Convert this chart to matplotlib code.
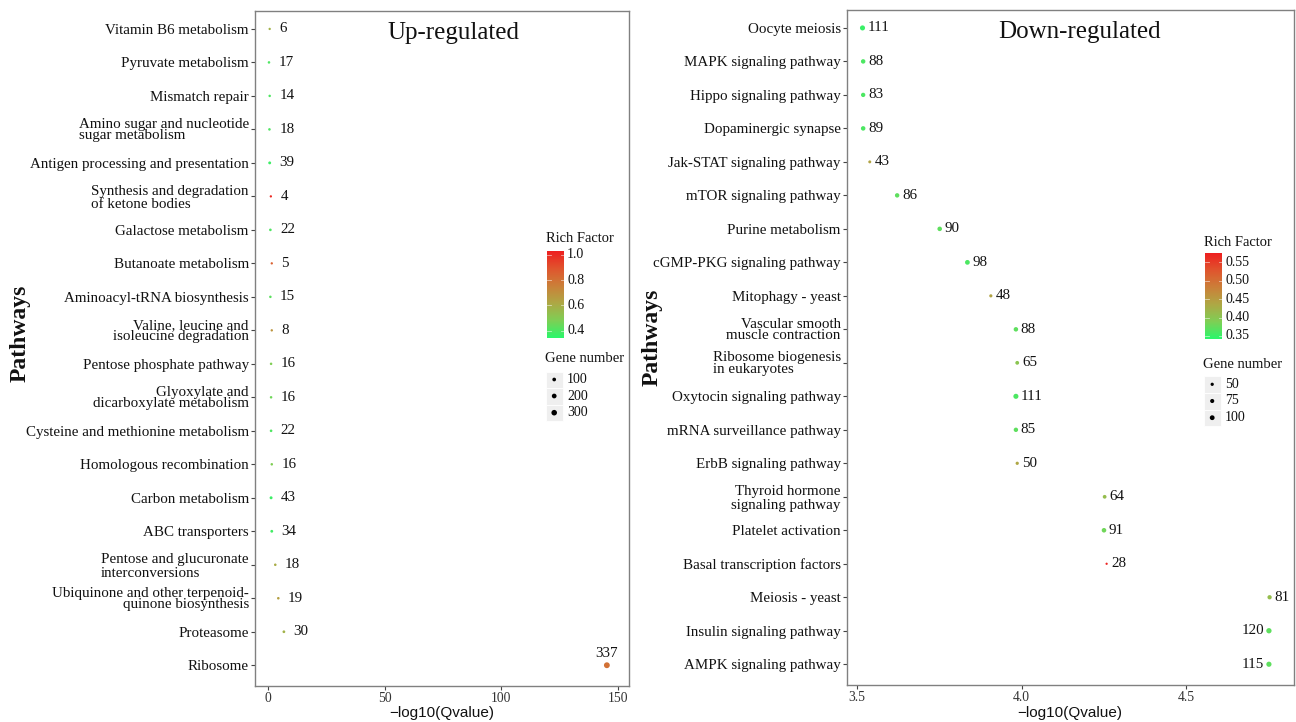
import matplotlib
matplotlib.use('Agg')
import matplotlib.pyplot as plt
import numpy as np
from matplotlib.colors import LinearSegmentedColormap, Normalize
from matplotlib.patches import Rectangle

# ---- data ----
up_pathways = [
    'Vitamin B6 metabolism', 'Pyruvate metabolism', 'Mismatch repair',
    'Amino sugar and nucleotide\nsugar metabolism', 'Antigen processing and presentation',
    'Synthesis and degradation\nof ketone bodies', 'Galactose metabolism',
    'Butanoate metabolism', 'Aminoacyl-tRNA biosynthesis',
    'Valine, leucine and\nisoleucine degradation', 'Pentose phosphate pathway',
    'Glyoxylate and\ndicarboxylate metabolism', 'Cysteine and methionine metabolism',
    'Homologous recombination', 'Carbon metabolism', 'ABC transporters',
    'Pentose and glucuronate\ninterconversions',
    'Ubiquinone and other terpenoid-\nquinone biosynthesis', 'Proteasome', 'Ribosome',
]
up_qvalue = [0.7, 0.4, 0.7, 0.6, 0.7, 1.2, 1.0, 1.6, 1.0, 1.6,
             1.3, 1.3, 1.3, 1.6, 1.3, 1.6, 3.1, 4.4, 6.8, 145.4]
up_rich = [0.58, 0.40, 0.40, 0.40, 0.37, 1.00, 0.40, 0.85, 0.42, 0.68,
           0.48, 0.45, 0.40, 0.48, 0.37, 0.38, 0.60, 0.64, 0.58, 0.80]
up_genes = [6, 17, 14, 18, 39, 4, 22, 5, 15, 8,
            16, 16, 22, 16, 43, 34, 18, 19, 30, 337]

down_pathways = [
    'Oocyte meiosis', 'MAPK signaling pathway', 'Hippo signaling pathway',
    'Dopaminergic synapse', 'Jak-STAT signaling pathway', 'mTOR signaling pathway',
    'Purine metabolism', 'cGMP-PKG signaling pathway', 'Mitophagy - yeast',
    'Vascular smooth\nmuscle contraction', 'Ribosome biogenesis\nin eukaryotes',
    'Oxytocin signaling pathway', 'mRNA surveillance pathway', 'ErbB signaling pathway',
    'Thyroid hormone\nsignaling pathway', 'Platelet activation',
    'Basal transcription factors', 'Meiosis - yeast', 'Insulin signaling pathway',
    'AMPK signaling pathway',
]
down_qvalue = [3.518, 3.52, 3.52, 3.52, 3.54, 3.623, 3.752, 3.836, 3.907, 3.983,
               3.987, 3.983, 3.983, 3.987, 4.252, 4.25, 4.258, 4.752, 4.75, 4.75]
down_rich = [0.35, 0.36, 0.36, 0.36, 0.44, 0.37, 0.37, 0.36, 0.44, 0.37,
             0.40, 0.36, 0.37, 0.435, 0.41, 0.38, 0.57, 0.41, 0.37, 0.37]
down_genes = [111, 88, 83, 89, 43, 86, 90, 98, 48, 88,
              65, 111, 85, 50, 64, 91, 28, 81, 120, 115]

up_rich_ticks = [0.4, 0.6, 0.8, 1.0]
down_rich_ticks = [0.35, 0.40, 0.45, 0.50, 0.55]
up_size_keys = [100, 200, 300]
down_size_keys = [50, 75, 100]

# labels whose second line starts flush with the first one
left_aligned = {'Amino sugar and nucleotide\nsugar metabolism',
                'Synthesis and degradation\nof ketone bodies',
                'Pentose and glucuronate\ninterconversions',
                'Ribosome biogenesis\nin eukaryotes'}
# two-line labels set with looser leading
loose = {'Synthesis and degradation\nof ketone bodies',
         'Pentose and glucuronate\ninterconversions',
         'Thyroid hormone\nsignaling pathway'}
# where the count label sits relative to its dot (default: right)
label_side = {'Ribosome': 'above',
              'Insulin signaling pathway': 'left',
              'AMPK signaling pathway': 'left'}

SERIF = 'Liberation Serif'
SANS = 'Liberation Sans'
W, H = 1296, 722

cmap = LinearSegmentedColormap.from_list(
    'rich', ['#2BF76B', '#7FCF55', '#AEA845', '#CB8039', '#E0552E', '#EE2020'])


def up_size(n):
    return 2.6 + 0.045 * np.asarray(n, dtype=float)


def down_size(n):
    return np.maximum(1.2, 0.13 * np.asarray(n, dtype=float) - 1.0)


def px_axes(fig, x0, y0, x1, y1):
    return fig.add_axes([x0 / W, 1 - y1 / H, (x1 - x0) / W, (y1 - y0) / H])


def draw_panel(fig, box, names, qv, rich, genes, norm, size_fn, xlim, xticks,
               xticklabels, title, title_x, dx):
    ax = px_axes(fig, *box)
    y = np.arange(len(names))
    ax.scatter(qv, y, s=size_fn(genes), c=rich, cmap=cmap, norm=norm,
               edgecolors='none', zorder=3)
    for xi, yi, n, name in zip(qv, y, genes, names):
        side = label_side.get(name, 'right')
        if side == 'above':
            off, ha, va = (0, 4), 'center', 'bottom'
        elif side == 'left':
            off, ha, va = (-dx, 0), 'right', 'center'
        else:
            off, ha, va = (dx, 0), 'left', 'center'
        ax.annotate(str(n), (xi, yi), xytext=off, textcoords='offset points',
                    ha=ha, va=va, fontsize=10.8, fontfamily=SERIF, color='#111111')
    ax.set_xlim(*xlim)
    ax.set_ylim(len(names) - 1 + 0.62, -0.55)
    ax.set_xticks(xticks)
    ax.set_xticklabels(xticklabels, fontfamily=SERIF, fontsize=9.8, color='#333333')
    ax.set_yticks(y)
    ax.set_yticklabels(names, fontfamily=SERIF, fontsize=10.8, color='#111111',
                       linespacing=0.85)
    for lab in ax.get_yticklabels():
        txt = lab.get_text()
        lab.set_multialignment('left' if txt in left_aligned else 'right')
        if txt in loose:
            lab.set_linespacing(1.05)
    ax.tick_params(axis='both', length=3, width=0.8, color='#444444', direction='out')
    ax.tick_params(axis='y', pad=1.5)
    ax.tick_params(axis='x', pad=1.5)
    for sp in ax.spines.values():
        sp.set_color('#808080')
        sp.set_linewidth(1.0)
    ax.text(title_x, 0.967, title, transform=ax.transAxes, ha='center', va='center',
            fontsize=18, fontfamily=SERIF, color='#111111')
    return ax


def draw_legend(lax, x0, title_y, bar_top, bar_bot, norm, ticks, tick_fmt,
                size_title_y, key_ys, keys, size_fn):
    lax.text(x0 - 1, title_y, 'Rich Factor', fontsize=10.5, fontfamily=SERIF,
             ha='left', va='center', color='#111111')
    grad = np.linspace(norm.vmax, norm.vmin, 200).reshape(-1, 1)
    lax.imshow(grad, cmap=cmap, norm=norm, aspect='auto',
               extent=[x0, x0 + 17, bar_bot, bar_top], zorder=2)
    for t in ticks:
        ty = bar_bot - (t - norm.vmin) / (norm.vmax - norm.vmin) * (bar_bot - bar_top)
        lax.plot([x0, x0 + 3.5], [ty, ty], color='white', lw=0.6, alpha=0.6, zorder=3)
        lax.plot([x0 + 13.5, x0 + 17], [ty, ty], color='white', lw=0.6, alpha=0.6, zorder=3)
        lax.text(x0 + 20, ty, tick_fmt.format(t), fontsize=10, fontfamily=SERIF,
                 ha='left', va='center', color='#111111')
    lax.text(x0 - 2, size_title_y, 'Gene number', fontsize=10.5, fontfamily=SERIF,
             ha='left', va='center', color='#111111')
    for ky, k in zip(key_ys, keys):
        lax.add_patch(Rectangle((x0 - 1, ky - 8), 16.5, 16.5, facecolor='#EFEFEF',
                                edgecolor='white', lw=0.6, zorder=2))
        lax.scatter([x0 + 7.2], [ky], s=size_fn(k), color='black',
                    edgecolors='none', zorder=3)
        lax.text(x0 + 20, ky, str(k), fontsize=10, fontfamily=SERIF,
                 ha='left', va='center', color='#111111')


fig = plt.figure(figsize=(W / 100, H / 100), dpi=100)

up_norm = Normalize(vmin=0.34, vmax=1.025)
down_norm = Normalize(vmin=0.341, vmax=0.5745)

draw_panel(fig, (255, 10.5, 629, 686), up_pathways, up_qvalue, up_rich, up_genes,
           up_norm, up_size, (-5.6, 154.9), [0, 50, 100, 150],
           ['0', '50', '100', '150'], 'Up-regulated', 0.53, 7)
draw_panel(fig, (847, 9.5, 1294, 685), down_pathways, down_qvalue, down_rich,
           down_genes, down_norm, down_size, (3.471, 4.826), [3.5, 4.0, 4.5],
           ['3.5', '4.0', '4.5'], 'Down-regulated', 0.52, 3.5)

fig.text(442 / W, 1 - 713 / H, '\u2212log10(Qvalue)', fontsize=11, fontfamily=SANS,
         ha='center', va='center', color='#111111')
fig.text(1070 / W, 1 - 713 / H, '\u2212log10(Qvalue)', fontsize=11, fontfamily=SANS,
         ha='center', va='center', color='#111111')
fig.text(20 / W, 1 - 333 / H, 'Pathways', rotation=90, fontsize=17, fontweight='bold',
         fontfamily=SERIF, ha='center', va='center', color='#111111')
fig.text(652 / W, 1 - 337 / H, 'Pathways', rotation=90, fontsize=17, fontweight='bold',
         fontfamily=SERIF, ha='center', va='center', color='#111111')

# overlay in pixel units for the two legends
lax = fig.add_axes([0, 0, 1, 1], zorder=5)
lax.set_xlim(0, W)
lax.set_ylim(H, 0)
lax.axis('off')
lax.patch.set_alpha(0)

draw_legend(lax, 547, 239, 251.7, 338.3, up_norm, up_rich_ticks, '{:.1f}',
            359, [379.5, 396, 412.7], up_size_keys, up_size)
draw_legend(lax, 1205, 243, 253.3, 339.3, down_norm, down_rich_ticks, '{:.2f}',
            364, [384.3, 401, 417.7], down_size_keys, down_size)

fig.savefig('out.png', dpi=100)
plt.close(fig)
